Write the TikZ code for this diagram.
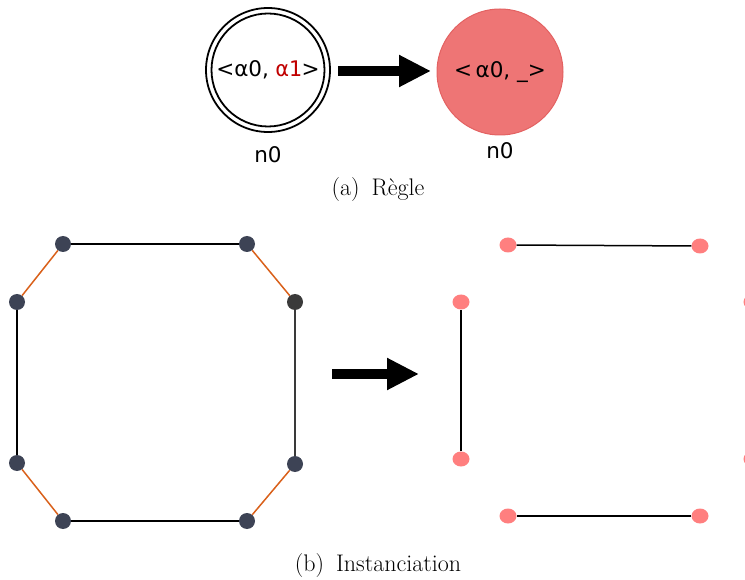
\documentclass[tikz,border=0pt]{standalone}
\usepackage{fontspec}
\newfontfamily\dvs{DejaVu Sans}
\newfontfamily\dvm{DejaVu Sans Mono}
\usetikzlibrary{arrows.meta,shapes.geometric}
\definecolor{slate}{HTML}{3D4355}
\definecolor{darkg}{HTML}{3A3A3A}
\definecolor{pinkn}{HTML}{FF7F7F}
\definecolor{salmon}{HTML}{EE7575}
\definecolor{salmonb}{HTML}{E36262}
\definecolor{orng}{HTML}{D9601A}
\definecolor{redt}{HTML}{C00000}
\begin{document}
\begin{tikzpicture}[x=1pt,y=-1pt,
  dnode/.style={circle,fill=slate,inner sep=0pt,minimum size=16pt},
  pnode/.style={ellipse,fill=pinkn,inner sep=0pt,minimum width=17pt,minimum height=15pt},
  thin edge/.style={line width=1.5pt,black},
  thick edge/.style={line width=2.8pt,black},
  orange edge/.style={line width=1.5pt,orng},
  bigarrow/.style={line width=10pt,-{Triangle[length=32pt,width=30pt]}},
  lbl/.style={font=\dvs\fontsize{21.5}{25}\selectfont},
  captext/.style={font=\fontsize{24}{28}\selectfont}
]
\useasboundingbox (0,0) rectangle (745,580);
\clip (0,0) rectangle (745,580);
% (a) rule
\node[circle,draw,line width=1.8pt,minimum size=124pt,inner sep=0pt] (ao) at (268,70) {};
\node[circle,draw,line width=1.8pt,minimum size=113pt,inner sep=0pt,lbl] (ai) at (268,70) {<α0, {\dvm\color{redt}α1}>};
\node[circle,fill=salmon,draw=salmonb,line width=1pt,minimum size=126pt,inner sep=0pt,lbl] (b) at (500,72) {<\,α0, \_>};
\node[lbl] (la) at (268,155) {n0};
\node[lbl] (lb) at (500,151) {n0};
\coordinate (a1) at (338,71);
\coordinate (a2) at (431,71);
\draw[bigarrow] (a1) -- (a2);
\node[captext] (capa) at (378,190) {(a)\enspace Règle};
% (b) left octagon
\node[dnode] (p1) at (63,244) {};
\node[dnode] (p2) at (247,244) {};
\node[dnode,fill=darkg] (p3) at (295,302) {};
\node[dnode] (p4) at (295,464) {};
\node[dnode] (p5) at (247,521) {};
\node[dnode] (p6) at (63,521) {};
\node[dnode] (p7) at (17,463) {};
\node[dnode] (p8) at (17,302) {};
\draw[thin edge] (p1) -- (p2);
\draw[orange edge] (p2) -- (p3);
\draw[thin edge,darkg] (p3) -- (p4);
\draw[orange edge] (p4) -- (p5);
\draw[thin edge] (p5) -- (p6);
\draw[orange edge] (p6) -- (p7);
\draw[thick edge] (p7) -- (p8);
\draw[orange edge] (p8) -- (p1);
\coordinate (b1) at (332,374);
\coordinate (b2) at (419,374);
\draw[bigarrow] (b1) -- (b2);
% (b) right
\node[pnode] (q1) at (508,245) {};
\node[pnode] (q2) at (700,246) {};
\node[pnode] (q3) at (752,302) {};
\node[pnode] (q4) at (752,459) {};
\node[pnode] (q5) at (700,516) {};
\node[pnode] (q6) at (508,516) {};
\node[pnode] (q7) at (461,459) {};
\node[pnode] (q8) at (461,302) {};
\draw[thin edge] (q1) -- (q2);
\draw[thin edge] (q5) -- (q6);
\draw[thick edge] (q7) -- (q8);
\node[captext] (capb) at (378,566) {(b)\enspace Instanciation};
\end{tikzpicture}
\end{document}
